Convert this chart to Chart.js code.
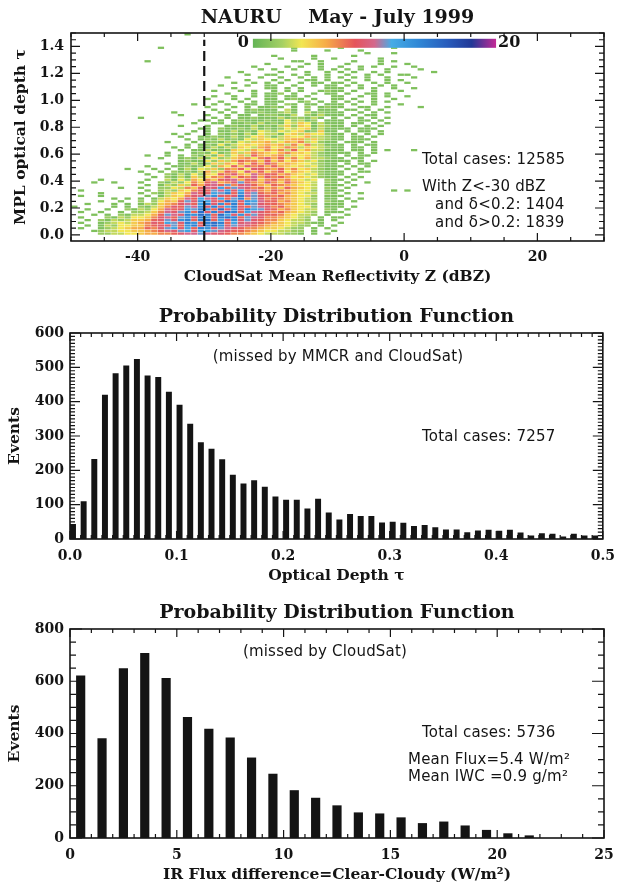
<!DOCTYPE html>
<html><head><meta charset="utf-8">
<script src="https://cdn.jsdelivr.net/npm/chart.js@4.4.1/dist/chart.umd.min.js"></script>
<style>
html,body{margin:0;padding:0;background:#fff;}
#wrap{position:relative;width:624px;height:886px;overflow:hidden;background:#fff;}
.pane{position:absolute;left:0;width:624px;}
canvas{display:block;}
</style></head><body>
<div id="wrap">
<div class="pane" style="top:0;height:290px"><canvas id="c1" width="624" height="290"></canvas></div>
<div class="pane" style="top:290px;height:300px"><canvas id="c2" width="624" height="300"></canvas></div>
<div class="pane" style="top:590px;height:296px"><canvas id="c3" width="624" height="296"></canvas></div>
</div>
<script>
// ---------------- Panel 1 data: 2-D histogram (CloudSat Z vs MPL tau) ----------------
const dbzBins = [-50,-49,-48,-47,-46,-45,-44,-43,-42,-41,-40,-39,-38,-37,-36,-35,-34,-33,-32,-31,-30,-29,-28,-27,-26,-25,-24,-23,-22,-21,-20,-19,-18,-17,-16,-15,-14,-13,-12,-11,-10,-9,-8,-7,-6,-5,-4,-3,-2,-1,0,1,2,3,4,5];
const tauBins = [1.48,1.46,1.44,1.42,1.40,1.38,1.36,1.34,1.32,1.30,1.28,1.26,1.24,1.22,1.20,1.18,1.16,1.14,1.12,1.10,1.08,1.06,1.04,1.02,1.00,0.98,0.96,0.94,0.92,0.90,0.88,0.86,0.84,0.82,0.80,0.78,0.76,0.74,0.72,0.70,0.68,0.66,0.64,0.62,0.60,0.58,0.56,0.54,0.52,0.50,0.48,0.46,0.44,0.42,0.40,0.38,0.36,0.34,0.32,0.30,0.28,0.26,0.24,0.22,0.20,0.18,0.16,0.14,0.12,0.10,0.08,0.06,0.04,0.02,0.00];
// one string per tau bin (top to bottom); one char per dBZ bin: '.'=0, '1'-'9', 'a'=10 ... 'k'=20
const countRows = [
".......... .......1.. .......... .......... ..........",
".......... .......... .......... .......... ..........",
".......... .......... .......... .......... ..........",
".......... .......... .......... .......... ..........",
".......... .......... .......... .......... ..........",
".......... ...1...... .......... ...1...... 1.......1.",
".......... .......... .......... ...1....1. ...1......",
".......... .......... .......... .......... ....1...1.",
".......... .......... .......... 1.....1... ..1.......",
".......... .......... .......... .1....1..1 ......1...",
".......... .1........ .......... ...11..1.. ..1...1.1.",
".......... .......... .........1 .....1.1.. .1....1... 1.....",
".......... .......... .......1.. ..1.1..1.. 1..1.1..1. .1....",
".......... .......... ........1. 1..1...1.1 .1.1...1.. ..1...",
".......... .......... .....1.... .1...1..1. 1.1..1.1.. ....1.",
".......... .......... ......1..1 1..1.1..1. .1..1.1..1 1.....",
".......... .......... ...1....1. .1..1.1.1. 1.1.1..1.. .1....",
".......... .......... ......1... 1.1..11.1. .1..1..1.1",
".......... .......... ....1..1.1 .1..1.11.1 1.1..1.1.. 1.....",
".......... .......... ..1...1..1 1..1..1.11 .1.1..1.1.",
".......... .......... ....1....1 1.1.1...11 1..1.1..1. .1....",
".......... .......... .1...1.1.. 1.1.1..121 1.1..1...1",
".......... .......... ...1...1.1 12.1..1.11 .1..11.1..",
".......... .......... .1..1..1.1 1.11.1...1 1..1.1.1.. 1.....",
".......... .......... 1...1.1..1 1.121.1..1 1.1..1..1.",
".......... .......... ..1..1.1.1 11..12.1.1 .1.1.1.1..",
".......... ........1. .1.1..11.1 1.21.11.11 1.1..1...1",
".......... .......... 1...1.1.11 21.1.2.121 1..11..1.. ..1...",
".......... .......... .1.1..1211 1.31.1.111 .11.1.1...",
".......... .....1.... ..1.1.1121 1231.31211 1..1.1.1..",
".......... ......1... 1..1.11.12 2113.21311 1.1.11....",
".......... 1......... .1.1.11211 13122131.1 .1.1.1.1..",
".......... .........1 1.1.121112 1142312.11 1..11.1...",
".......... ........1. .11.112131 2143541311 1.11.1.1..",
".......... ......1... 1..1211312 1352541321 1.1.1.1...",
".......... .........1 1.21121312 1243451311 11.111....",
".......... ........1. 1.11312143 2434512511 .1.11.1...",
".......... .....1.1.. 1.21213143 3145354421 1.1.1.1...",
".......... ......1..1 1211312453 1354463321 1.11.1....",
".......... .......1.1 2131214354 4356635321 1.111.....",
".......... ....1...1. 1213143556 3465734211 .111.1....",
".......... .......1.1 2141345456 5637473311 1.1.11....",
".......... .....1.1.1 1313254367 4576354321 1.11.1....",
".......... ......1.11 3121543647 5738463311 1.11.1.1.. .1....",
".......... ....1...12 1412535765 4675543211 11.1.1....",
".......... .1..1.1.21 3152463865 6735453211 .1.11.....",
".......... ...1..1213 1423567479 6857463321 1.11......",
".......... ......1211 4253687758 5746534211 11.1.1....",
".......... ....1.1131 2536475869 7565443211 .1.11.....",
".......... .1...11212 4264859786 8654534211 1.1.1.....",
"........1. ..1.1.1314 3527684987 6857453211 .1.1......",
".......... 1..1.21213 6358749685 7846543211 1..11.....",
".......... .1..213142 5487965a78 8675434211 1.1.......",
".......... ..1.213153 4769587a69 7864543211 .1.1......",
"....1..... .1..314264 7589a68957 8675434.21 1.1.......",
"...1..1... 1..2132475 8a679b8769 7586543.21 .1..1.....",
".......... .1.1325386 9a8b79a865 8765443.11 1.1.......",
".......1.. 1..2243758 a9c8ba9786 7586543.21 .1........",
".1........ .1.2325479 8bad9c8a76 8765442.11 1.......1. 1",
"....1..... 1.213546a8 9cbe8dab87 8675433.21 .1.1......",
".1..1..... .1.135479a bd989eab98 7865442.11 1.........",
"......1.1. 1.13546a8c a9c8be7b97 8765432.11 .1.1......",
"....1..1.. 2.24658b9d c98fd9dca8 8675433.21 1.1.......",
"..1...1.1. 1325679a8c e9d8e8db98 8765432.11 1.........",
"1.....1.1. 2135798bad 9e9ce98ba9 7865442.11 1.1.......",
"..1..1..21 3246a89cbe d8f9d9ecb9 8675433.21 .1........",
".1..1..1.2 2357a9bd8f 9e9fe8ca98 7865432.11 1.........",
"...1.1.213 3468ba9edf e8fc9d9b98 8754332.1. .1........",
".1...21324 4579a8bd9e d9efe8ba97 765432.1.1 1.........",
"..1.213235 5689b9de8e f8c9d9b987 754332.1.1",
".1..123435 6798cb9ed8 efe8c9a987 65433211.. 1",
"..1.132445 57899b8de9 efd9ba9876 554322.1.1",
".1..123456 6879bc9c8e d9ba987765 54322.1.1.",
"...1233445 5678a9bc9c cba9887654 43322.1..1",
"....223344 5667789aab a998776543 33221.1.1."
];
const COUNT_CODES = '.123456789abcdefghijk';
const countMax = 20;
const refLineDbz = -30;
const p1XTicks = [-40, -20, 0, 20];
const p1YTicks = [0.0, 0.2, 0.4, 0.6, 0.8, 1.0, 1.2, 1.4];
const p1Notes = ['Total cases: 12585', 'With Z<-30 dBZ', 'and \u03b4<0.2: 1404', 'and \u03b4>0.2: 1839'];

// ---------------- Panel 2 data: PDF of optical depth ----------------
const odBinStart = [0.00,0.01,0.02,0.03,0.04,0.05,0.06,0.07,0.08,0.09,0.10,0.11,0.12,0.13,0.14,0.15,0.16,0.17,0.18,0.19,0.20,0.21,0.22,0.23,0.24,0.25,0.26,0.27,0.28,0.29,0.30,0.31,0.32,0.33,0.34,0.35,0.36,0.37,0.38,0.39,0.40,0.41,0.42,0.43,0.44,0.45,0.46,0.47,0.48,0.49];
const odCounts = [44,110,233,420,483,505,524,476,472,429,391,336,282,263,232,187,162,171,152,124,114,114,89,117,77,57,73,67,67,48,50,47,38,41,34,28,28,20,25,27,24,27,19,10,17,15,7,15,10,10];
const p2XTicks = [0.0, 0.1, 0.2, 0.3, 0.4, 0.5];
const p2YTicks = [0, 100, 200, 300, 400, 500, 600];

// ---------------- Panel 3 data: PDF of IR flux difference ----------------
const fluxBinStart = [0,1,2,3,4,5,6,7,8,9,10,11,12,13,14,15,16,17,18,19,20,21];
const fluxCounts = [622,382,650,708,612,463,418,385,308,246,183,154,125,98,94,79,57,63,48,31,18,10];
const p3XTicks = [0, 5, 10, 15, 20, 25];
const p3YTicks = [0, 200, 400, 600, 800];

// ---------------- styling helpers ----------------
const INK = '#141414';
const SERIF = '"DejaVu Serif", serif';
const SANS = '"DejaVu Sans", sans-serif';
const CMAP = [[0,[100,180,86]],[0.12,[165,208,100]],[0.2,[242,230,82]],[0.3,[246,172,72]],[0.42,[229,84,92]],[0.5,[212,104,140]],[0.57,[70,172,230]],[0.68,[48,136,214]],[0.8,[40,92,188]],[0.9,[34,56,150]],[1,[196,42,150]]];
function cmapColor(t){
  t = Math.max(0, Math.min(1, t));
  for (let i = 1; i < CMAP.length; i++) {
    if (t <= CMAP[i][0]) {
      const [t0,c0] = CMAP[i-1], [t1,c1] = CMAP[i];
      const f = (t - t0) / (t1 - t0);
      return 'rgb(' + c0.map((c,k) => Math.round(c + (c1[k]-c)*f)).join(',') + ')';
    }
  }
  return 'rgb(' + CMAP[CMAP.length-1][1].join(',') + ')';
}

function heatPoints(){
  const pts = [];
  const halfW = (dbzBins[1]-dbzBins[0])/2;
  const halfH = (tauBins[0]-tauBins[1])/2;
  countRows.forEach((row, r) => {
    const s = row.replace(/ /g, '');
    for (let j = 0; j < s.length && j < dbzBins.length; j++) {
      const v = COUNT_CODES.indexOf(s[j]);
      if (v > 0) pts.push({x: dbzBins[j] + halfW, y: tauBins[r] + halfH, v});
    }
  });
  return pts;
}

function gen(min, max, step){
  const out = [];
  const n0 = Math.ceil(min/step - 1e-9), n1 = Math.floor(max/step + 1e-9);
  for (let n = n0; n <= n1; n++) out.push(n*step);
  return out;
}

const idlPlugin = {
  id: 'idl',
  afterDatasetsDraw(chart, args, o){
    const {ctx, chartArea: a} = chart;
    const xs = chart.scales.x, ys = chart.scales.y;
    ctx.save();
    if (o.colorbar) {
      const cb = o.colorbar;
      const x0 = xs.getPixelForValue(cb.x0), x1 = xs.getPixelForValue(cb.x1);
      const y0 = ys.getPixelForValue(cb.y1), y1 = ys.getPixelForValue(cb.y0);
      const g = ctx.createLinearGradient(x0, 0, x1, 0);
      CMAP.forEach(([t]) => g.addColorStop(t, cmapColor(t)));
      ctx.fillStyle = g;
      ctx.fillRect(x0, y0, x1-x0, y1-y0);
      ctx.fillStyle = INK;
      ctx.font = 'bold 16px ' + SERIF;
      ctx.textBaseline = 'middle';
      ctx.textAlign = 'right';
      ctx.fillText('0', x0 - 4, (y0+y1)/2);
      ctx.textAlign = 'left';
      ctx.fillText(String(countMax), x1 + 2, (y0+y1)/2);
    }
    ctx.strokeStyle = INK;
    ctx.lineWidth = 1.2;
    ctx.setLineDash([]);
    ctx.beginPath();
    for (const [step, len] of [[o.xMinor, o.xMinorLen], [o.xMajor, o.xMajorLen]]) {
      for (const v of gen(xs.min, xs.max, step)) {
        const p = xs.getPixelForValue(v);
        ctx.moveTo(p, a.bottom); ctx.lineTo(p, a.bottom - len);
        ctx.moveTo(p, a.top); ctx.lineTo(p, a.top + len);
      }
    }
    for (const [step, len] of [[o.yMinor, o.yMinorLen], [o.yMajor, o.yMajorLen]]) {
      for (const v of gen(ys.min, ys.max, step)) {
        const p = ys.getPixelForValue(v);
        ctx.moveTo(a.left, p); ctx.lineTo(a.left + len, p);
        ctx.moveTo(a.right, p); ctx.lineTo(a.right - len, p);
      }
    }
    ctx.stroke();
    ctx.lineWidth = o.frameWidth;
    ctx.strokeRect(a.left, a.top, a.right - a.left, a.bottom - a.top);
    ctx.fillStyle = INK;
    ctx.textBaseline = 'middle';
    for (const t of o.texts) {
      ctx.font = t.font;
      ctx.letterSpacing = t.spacing || '0px';
      ctx.textAlign = t.align || 'left';
      const x = t.x === 'mid' ? (a.left + a.right)/2 : t.x;
      ctx.fillText(t.text, x, t.y);
    }
    ctx.restore();
  }
};

function axisCommon(extra){
  return Object.assign({
    grid: {display: false, drawTicks: false},
    border: {display: false},
  }, extra);
}
const tickFont = {family: SERIF, size: 14, weight: 'bold'};
const titleFont = {family: SERIF, size: 15.5, weight: 'bold'};
const panelTitleFont = 'bold 19px ' + SERIF;
const noteFont = '15px ' + SANS;
const noteSp = '0.2px';

function baseOptions(p){
  return {
    responsive: false,
    animation: false,
    devicePixelRatio: 1,
    events: [],
    layout: {padding: {left: 0, right: p.right, top: p.top, bottom: 0}},
    plugins: {legend: {display: false}, tooltip: {enabled: false}, title: {display: false}, idl: p.idl},
    scales: {
      x: axisCommon({
        type: 'linear', position: 'bottom', min: p.xMin, max: p.xMax, offset: false,
        afterFit: s => { s.height = p.xH; },
        afterBuildTicks: s => { s.ticks = p.xTicks.map(v => ({value: v})); },
        ticks: {font: tickFont, color: INK, padding: p.xPad, autoSkip: false, maxRotation: 0, callback: p.xFmt},
        title: {display: true, text: p.xTitle, font: titleFont, color: INK, padding: {top: 0, bottom: p.xTitlePad}}
      }),
      y: axisCommon({
        type: 'linear', position: 'left', min: p.yMin, max: p.yMax,
        afterFit: s => { s.width = p.yW; },
        afterBuildTicks: s => { s.ticks = p.yTicks.map(v => ({value: v})); },
        ticks: {font: tickFont, color: INK, padding: p.yPad, autoSkip: false, callback: p.yFmt},
        title: {display: true, text: p.yTitle, font: titleFont, color: INK, padding: {top: p.yTitlePad, bottom: 0}}
      })
    }
  };
}

// ---------------- Panel 1 ----------------
new Chart(document.getElementById('c1'), {
  type: 'scatter',
  plugins: [idlPlugin],
  data: {datasets: [
    {
      data: [{x: refLineDbz, y: -0.045}, {x: refLineDbz, y: 1.45}],
      showLine: true, borderColor: INK, borderWidth: 2.2, borderDash: [10, 5], pointRadius: 0, fill: false
    },
    {
      data: heatPoints(),
      pointStyle: 'line',
      radius: c => Math.abs(c.chart.scales.x.getPixelForValue(1) - c.chart.scales.x.getPixelForValue(0)) * 0.47,
      borderWidth: c => Math.abs(c.chart.scales.y.getPixelForValue(0) - c.chart.scales.y.getPixelForValue(0.02)) * 0.85,
      borderColor: c => cmapColor(c.raw ? c.raw.v / countMax : 0),
      backgroundColor: 'rgba(0,0,0,0)'
    }
  ]},
  options: baseOptions({
    right: 20, top: 33, xH: 49, yW: 71,
    xMin: -50, xMax: 30, yMin: -0.045, yMax: 1.5,
    xTicks: p1XTicks, yTicks: p1YTicks,
    xFmt: v => String(v), yFmt: v => v.toFixed(1),
    xPad: 8, yPad: 7,
    xTitle: 'CloudSat Mean Reflectivity Z (dBZ)', xTitlePad: 4,
    yTitle: 'MPL optical depth \u03c4', yTitlePad: 12,
    idl: {
      xMajor: 20, xMinor: 5, xMajorLen: 8, xMinorLen: 4,
      yMajor: 0.2, yMinor: 0.05, yMajorLen: 9, yMinorLen: 5, frameWidth: 1.6,
      colorbar: {x0: -22.7, x1: 13.8, y0: 1.39, y1: 1.457},
      texts: [
        {text: 'NAURU    May - July 1999', x: 'mid', y: 18, font: panelTitleFont, align: 'center'},
        {text: p1Notes[0], x: 422, y: 160, font: noteFont, spacing: noteSp},
        {text: p1Notes[1], x: 422, y: 187, font: noteFont, spacing: noteSp},
        {text: p1Notes[2], x: 435, y: 205, font: noteFont, spacing: noteSp},
        {text: p1Notes[3], x: 435, y: 223, font: noteFont, spacing: noteSp}
      ]
    }
  })
});

// ---------------- Panel 2 ----------------
new Chart(document.getElementById('c2'), {
  type: 'bar',
  plugins: [idlPlugin],
  data: {datasets: [{
    data: odBinStart.map((b, i) => ({x: b + 0.0028, y: odCounts[i]})),
    backgroundColor: INK, borderWidth: 0, barPercentage: 0.56, categoryPercentage: 1
  }]},
  options: baseOptions({
    right: 19, top: 43, xH: 51, yW: 70,
    xMin: 0, xMax: 0.5, yMin: 0, yMax: 600,
    xTicks: p2XTicks, yTicks: p2YTicks,
    xFmt: v => v.toFixed(1), yFmt: v => String(v),
    xPad: 9, yPad: 6,
    xTitle: 'Optical Depth \u03c4', xTitlePad: 5,
    yTitle: 'Events', yTitlePad: 6,
    idl: {
      xMajor: 0.1, xMinor: 0.01, xMajorLen: 8, xMinorLen: 4,
      yMajor: 100, yMinor: 10, yMajorLen: 10, yMinorLen: 5, frameWidth: 1.6,
      texts: [
        {text: 'Probability Distribution Function', x: 'mid', y: 27, font: panelTitleFont, align: 'center'},
        {text: '(missed by MMCR and CloudSat)', x: 338, y: 67, font: noteFont, align: 'center', spacing: noteSp},
        {text: 'Total cases: 7257', x: 422, y: 147, font: noteFont, spacing: noteSp}
      ]
    }
  })
});

// ---------------- Panel 3 ----------------
new Chart(document.getElementById('c3'), {
  type: 'bar',
  plugins: [idlPlugin],
  data: {datasets: [{
    data: fluxBinStart.map((b, i) => ({x: b + 0.5, y: fluxCounts[i]})),
    backgroundColor: INK, borderWidth: 0, barPercentage: 0.43, categoryPercentage: 1
  }]},
  options: baseOptions({
    right: 20, top: 39, xH: 48, yW: 70,
    xMin: 0, xMax: 25, yMin: 0, yMax: 800,
    xTicks: p3XTicks, yTicks: p3YTicks,
    xFmt: v => String(v), yFmt: v => String(v),
    xPad: 9, yPad: 6,
    xTitle: 'IR Flux difference=Clear-Cloudy (W/m\u00b2)', xTitlePad: 2,
    yTitle: 'Events', yTitlePad: 6,
    idl: {
      xMajor: 5, xMinor: 1, xMajorLen: 8, xMinorLen: 4,
      yMajor: 200, yMinor: 50, yMajorLen: 12, yMinorLen: 6, frameWidth: 1.6,
      texts: [
        {text: 'Probability Distribution Function', x: 'mid', y: 23, font: panelTitleFont, align: 'center'},
        {text: '(missed by CloudSat)', x: 325, y: 62, font: noteFont, align: 'center', spacing: noteSp},
        {text: 'Total cases: 5736', x: 422, y: 143, font: noteFont, spacing: noteSp},
        {text: 'Mean Flux=5.4 W/m\u00b2', x: 408, y: 170, font: noteFont, spacing: noteSp},
        {text: 'Mean IWC =0.9 g/m\u00b2', x: 408, y: 187, font: noteFont, spacing: noteSp}
      ]
    }
  })
});
</script>
</body></html>
